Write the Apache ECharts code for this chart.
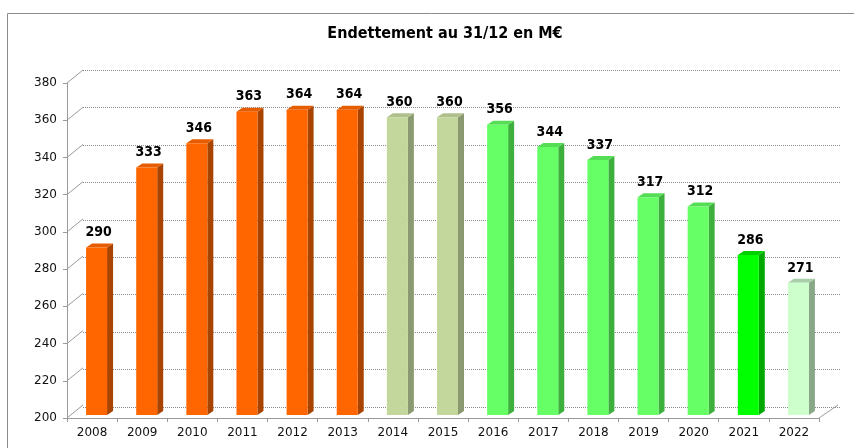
<!DOCTYPE html>
<html>
<head>
<meta charset="utf-8">
<script src="https://cdn.jsdelivr.net/npm/echarts@6/dist/echarts.min.js"></script>
<style>
  html, body { margin: 0; padding: 0; background: #fff; }
  #chart { width: 854px; height: 448px; }
</style>
</head>
<body>
<div id="chart"></div>
<script>
// data
var years = ['2008', '2009', '2010', '2011', '2012', '2013', '2014', '2015',
             '2016', '2017', '2018', '2019', '2020', '2021', '2022'];
var debt = [290, 333, 346, 363, 364, 364, 360, 360, 356, 344, 337, 317, 312, 286, 271];
var barGroup = ['orange', 'orange', 'orange', 'orange', 'orange', 'orange', 'olive', 'olive',
                'green', 'green', 'green', 'green', 'green', 'bright', 'pale'];
var yMin = 200, yMax = 380, yStep = 20;
var yTicks = [200, 220, 240, 260, 280, 300, 320, 340, 360, 380];

// couleurs (face, cote, dessus)
var palette = {
    orange: ['#FF6600', '#A84300', '#E65C00'],
    olive:  ['#C3D69B', '#8A9970', '#AFC08A'],
    green:  ['#66FF66', '#3DAF3D', '#55DD55'],
    bright: ['#00FF00', '#00A800', '#00D000'],
    pale:   ['#CCFFCC', '#88A888', '#A9CFA9']
};

var DX = 16, DY = -13;   // profondeur du fond
var BDX = 6, BDY = -4;   // profondeur des barres
var labelFont = '"Liberation Sans Narrow", "DejaVu Sans Condensed", sans-serif';
var axisFont = '"DejaVu Sans", Verdana, sans-serif';

var chart = echarts.init(document.getElementById('chart'));

/* barres pseudo 3D */
function renderBar(params, api) {
    var idx = api.value(0);
    var val = api.value(1);
    var top = api.coord([idx, val]);
    var bot = api.coord([idx, yMin]);
    var col = palette[barGroup[idx]];
    var x0 = top[0] - 6, w = 21, x1 = x0 + w;
    var yt = top[1] - 3, yb = bot[1] - 3;
    return {
        type: 'group',
        children: [
            {type: 'polygon', shape: {points: [[x1, yt], [x1 + BDX, yt + BDY], [x1 + BDX, yb + BDY], [x1, yb]]},
             style: {fill: col[1]}},
            {type: 'polygon', shape: {points: [[x0, yt], [x0 + BDX, yt + BDY], [x1 + BDX, yt + BDY], [x1, yt]]},
             style: {fill: col[2]}},
            {type: 'rect', shape: {x: x0, y: yt, width: w, height: yb - yt},
             style: {fill: col[0]}},
            {type: 'text', x: x0 + w / 2 + 2, y: yt - 8,
             style: {text: String(val), fill: '#000', font: 'bold 14px ' + labelFont,
                     align: 'center', verticalAlign: 'bottom'}}
        ]
    };
}

/* petites diagonales entre l'axe et le fond */
function renderDiag(params, api) {
    var cs = params.coordSys;
    var p = api.coord([0, api.value(0)]);
    var children = [{type: 'line', shape: {x1: cs.x, y1: p[1], x2: cs.x + DX, y2: p[1] + DY},
                     style: {stroke: '#9a9a9a', lineWidth: 1}}];
    if (api.value(0) === yMin) {
        children.push({type: 'line', shape: {x1: cs.x + cs.width, y1: p[1], x2: cs.x + cs.width + DX + 3, y2: p[1] + DY},
                       style: {stroke: '#9a9a9a', lineWidth: 1}});
    }
    return {type: 'group', children: children};
}

var option = {
    animation: false,
    title: {
        text: 'Endettement au 31/12 en M€',
        left: 440, textAlign: 'center', top: 21,
        textStyle: {fontSize: 16, fontWeight: 'bold', color: '#000', fontFamily: labelFont}
    },
    graphic: [{
        type: 'rect', left: 5, top: 11, shape: {width: 870, height: 460},
        style: {fill: 'none', stroke: '#8c8c8c', lineWidth: 1}, silent: true
    }],
    grid: [
        {left: 67, right: 35, top: 83, bottom: 30},
        {left: 83, right: 14, top: 70, bottom: 41}
    ],
    xAxis: [
        {
            type: 'category', gridIndex: 0, data: years,
            axisLine: {lineStyle: {color: '#9a9a9a'}},
            axisTick: {show: true, length: 4, lineStyle: {color: '#9a9a9a'}},
            axisLabel: {color: '#111', fontSize: 12, fontFamily: axisFont, margin: 9}
        },
        {type: 'value', gridIndex: 1, show: false, min: 0, max: 1}
    ],
    yAxis: [
        {
            type: 'value', gridIndex: 0, min: yMin, max: yMax, interval: yStep,
            axisLine: {show: true, lineStyle: {color: '#9a9a9a'}},
            axisTick: {show: true, length: 4, lineStyle: {color: '#9a9a9a'}},
            axisLabel: {color: '#111', fontSize: 12, fontFamily: axisFont, margin: 10},
            splitLine: {show: false}
        },
        {
            type: 'value', gridIndex: 1, min: yMin, max: yMax, interval: yStep,
            axisLine: {show: false}, axisTick: {show: false}, axisLabel: {show: false},
            splitLine: {show: true, lineStyle: {color: '#8a8a8a', type: 'dotted', width: 1}}
        }
    ],
    series: [
        {
            type: 'custom', xAxisIndex: 0, yAxisIndex: 0,
            renderItem: renderDiag,
            data: yTicks.map(function (v) { return [v]; }),
            encode: {y: 0}, z: 1
        },
        {
            type: 'custom', xAxisIndex: 0, yAxisIndex: 0,
            renderItem: renderBar,
            data: debt.map(function (v, i) { return [i, v]; }),
            encode: {x: 0, y: 1}, z: 5
        }
    ]
};

chart.setOption(option);
</script>
</body>
</html>
